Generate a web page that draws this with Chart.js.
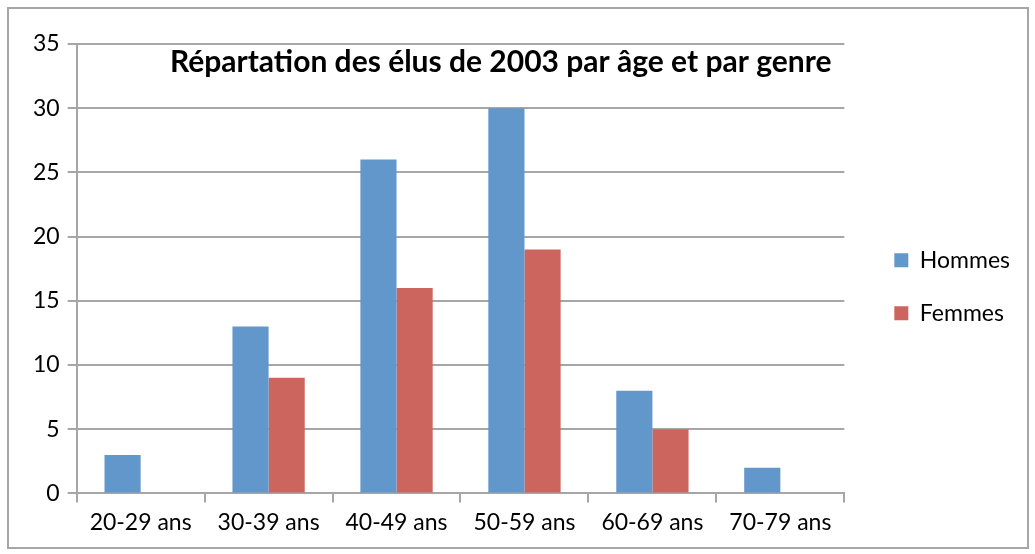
<!DOCTYPE html>
<html lang="fr">
<head>
    <meta charset="UTF-8">
    <title>Répartation des élus de 2003</title>
    <script src="https://cdn.jsdelivr.net/npm/chart.js@4.4.1/dist/chart.umd.min.js"></script>
    <style>
        body { margin: 0; background: #fff; }
        #wrap { position: relative; width: 1035px; height: 554px; }
        #cadre { position: absolute; left: 7px; top: 7px; width: 1018px; height: 538px;
                 border: 2px solid #a6a6a6; pointer-events: none; }
    </style>
</head>
<body>
<div id="wrap">
    <canvas id="barChart" width="1035" height="554"></canvas>
    <div id="cadre"></div>
</div>
<script>
    // données
    const categories = ['20-29 ans', '30-39 ans', '40-49 ans', '50-59 ans', '60-69 ans', '70-79 ans'];
    const hommes = [3, 13, 26, 30, 8, 2];
    const femmes = [0, 9, 16, 19, 5, 0];
    const titre = 'Répartation des élus de 2003 par âge et par genre';

    const police = 'Lato, "Open Sans", sans-serif';

    // titre dessiné dans la zone du graphique
    const titrePlugin = {
        id: 'titreInterne',
        afterDraw(chart) {
            const ctx = chart.ctx;
            const a = chart.chartArea;
            ctx.save();
            ctx.font = 'bold 30px ' + police;
            ctx.fillStyle = '#000';
            ctx.textAlign = 'center';
            ctx.textBaseline = 'middle';
            ctx.fillText(titre, a.left + 424, a.top + 18);
            ctx.restore();
        }
    };

    const ctx = document.getElementById('barChart').getContext('2d');
    new Chart(ctx, {
        type: 'bar',
        data: {
            labels: categories,
            datasets: [
                { label: 'Hommes', data: hommes, backgroundColor: '#6297cb' },
                { label: 'Femmes', data: femmes, backgroundColor: '#cd655f' }
            ]
        },
        options: {
            responsive: false,
            animation: false,
            layout: { padding: { left: 25, top: 44, right: 15, bottom: 12 } },
            datasets: { bar: { categoryPercentage: 0.565, barPercentage: 1 } },
            plugins: {
                legend: {
                    position: 'right',
                    fullSize: false,
                    title: { display: true, text: ' ', font: { size: 20 }, padding: 6 },
                    labels: {
                        font: { family: police, size: 23 },
                        color: '#000',
                        boxWidth: 14,
                        boxHeight: 14,
                        padding: 30
                    }
                },
                tooltip: { enabled: false }
            },
            scales: {
                x: {
                    grid: { offset: true, drawOnChartArea: false, tickLength: 9, color: '#a6a6a6', lineWidth: 2 },
                    border: { color: '#a6a6a6', width: 2 },
                    ticks: { font: { family: police, size: 23 }, color: '#000', padding: 6 }
                },
                y: {
                    min: 0,
                    max: 35,
                    ticks: { stepSize: 5, font: { family: police, size: 23 }, color: '#000', padding: 8 },
                    grid: { color: '#a6a6a6', lineWidth: 2, tickLength: 9 },
                    border: { color: '#a6a6a6', width: 2 }
                },
                // axe vide qui réserve l'espace entre le tracé et la légende
                marge: {
                    type: 'linear',
                    position: 'right',
                    grid: { display: false },
                    border: { display: false },
                    ticks: { display: false },
                    afterFit(scale) { scale.width = 20; }
                }
            }
        },
        plugins: [titrePlugin]
    });
</script>
</body>
</html>
